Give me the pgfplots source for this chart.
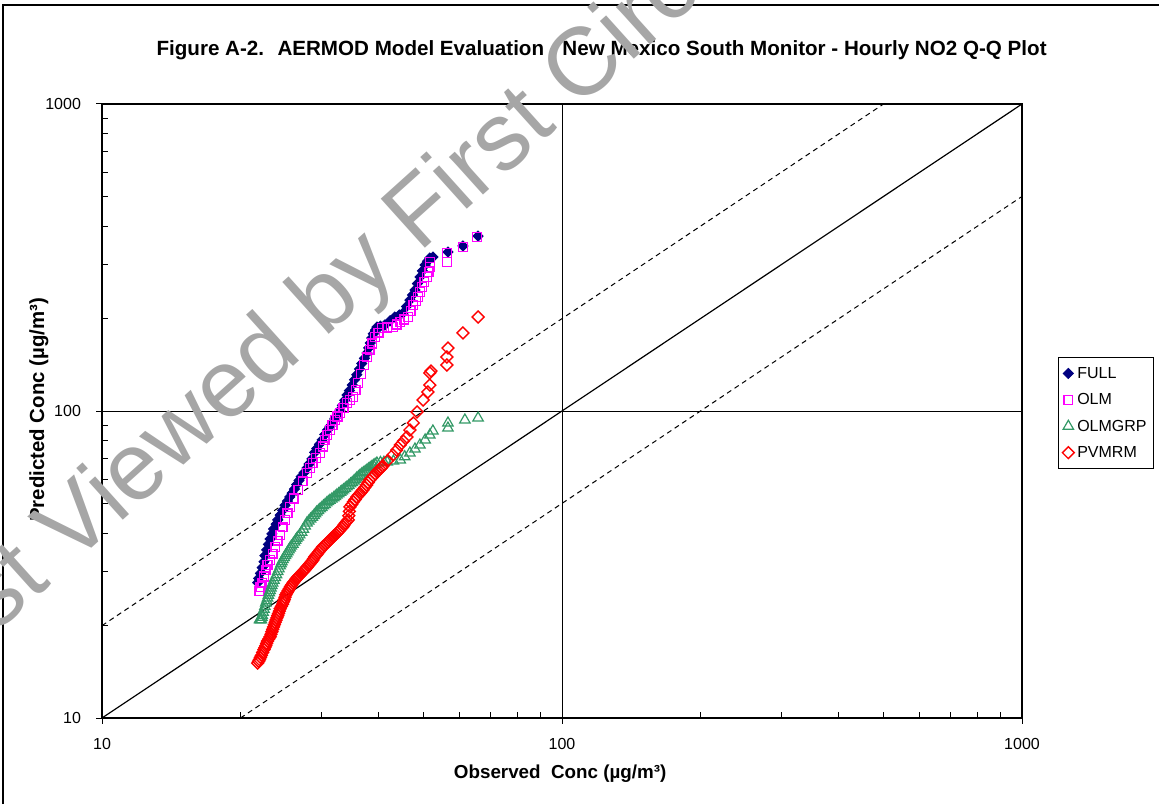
\documentclass[border=0pt]{standalone}
\usepackage{fontspec}
\setmainfont{Liberation Sans}
\usepackage{pgfplots}
\pgfplotsset{compat=1.18}

\definecolor{fullc}{RGB}{0,0,128}
\definecolor{olmc}{RGB}{255,0,255}
\definecolor{grpc}{RGB}{51,153,102}
\definecolor{pvc}{RGB}{255,0,0}

\begin{document}
\begin{tikzpicture}
\useasboundingbox (0,0) rectangle (579.5pt,402pt);
\begin{scope}
\clip (0,0) rectangle (579.5pt,402pt);
% frame of the figure
\draw[line width=1pt] (1.5pt,0) -- (1.5pt,399.5pt) -- (579.5pt,399.5pt);

\begin{axis}[
    at={(51pt,43pt)}, anchor=south west,
    scale only axis, width=460pt, height=307pt,
    xmode=log, ymode=log,
    xmin=10, xmax=1000, ymin=10, ymax=1000,
    xtick={10,100,1000}, xticklabels={10,100,1000},
    ytick={10,100,1000}, yticklabels={10,100,1000},
    xtick pos=left, ytick pos=left,
    tick align=inside,
    major tick length=-3pt, minor tick length=3pt,
    every tick/.style={black, line width=0.5pt},
    axis line style={line width=1pt},
    grid=major, major grid style={black, line width=0.5pt},
    ticklabel style={font=\fontsize{8}{9}\selectfont},
    xticklabel style={yshift=-6.5pt},
    yticklabel style={xshift=-7pt},
    title={Figure A-2.~ AERMOD Model Evaluation - New Mexico South Monitor - Hourly NO2 Q-Q Plot},
    title style={at={(axis description cs:0.543,1.068)}, anchor=center, yshift=0pt, font=\bfseries\fontsize{10.3}{12}\selectfont},
    xlabel={Observed~ Conc (µg/m³)},
    xlabel style={at={(axis description cs:0.498,-0.091)}, anchor=center, font=\bfseries\fontsize{9.4}{11}\selectfont},
    ylabel={Predicted Conc (µg/m³)},
    ylabel style={at={(axis description cs:-0.0685,0.502)}, anchor=center, font=\bfseries\fontsize{10.2}{12}\selectfont},
    legend style={at={(axis description cs:1.039,0.588)}, anchor=north west,
        draw=black, line width=0.5pt, font=\fontsize{8}{9}\selectfont,
        inner xsep=2pt, inner ysep=3pt, row sep=3.2pt,
        nodes={inner sep=1.5pt, text height=6pt, text depth=1pt}},
    legend cell align=left,
    legend image code/.code={\draw[mark repeat=2,mark phase=2,#1] plot coordinates {(0cm,0cm) (0.12cm,0cm) (0.24cm,0cm)};},
]

% FULL
\addplot[only marks, color=fullc, mark=square*, mark size=1.8pt,
    mark options={rotate=45, fill=fullc, draw=fullc, line width=0.4pt}] coordinates {
(21.8,27.6) (21.9,28.5) (22.1,29.6) (22.3,30.9) (22.5,32.3) (22.6,33.8)
(22.8,35.3) (23.0,36.8) (23.2,38.3) (23.4,39.8) (23.6,41.3) (23.9,42.8)
(24.1,44.2) (24.4,45.8) (24.7,47.5) (25.0,49.3) (25.3,50.9) (25.6,52.5)
(25.9,54.0) (26.2,55.7) (26.5,57.6) (26.8,59.4) (27.1,61.1) (27.5,63.0)
(27.9,65.2) (28.2,67.2) (28.6,69.8) (29.0,73.3) (29.3,75.5) (29.7,77.9)
(30.1,80.6) (30.5,83.8) (30.9,86.7) (31.3,89.2) (31.7,91.9) (32.1,94.6)
(32.5,97.4) (32.9,100.6) (33.3,104.3) (33.7,108.4) (34.1,112.7) (34.5,116.6)
(35.0,121.5) (35.4,126.5) (35.8,131.3) (36.3,137.0) (36.7,142.9) (37.2,148.5)
(37.7,154.5) (38.0,160.5) (38.3,166.6) (38.6,172.9) (38.9,178.5) (39.3,183.5)
(39.6,187.7) (40.3,189.0) (41.2,190.6) (42.3,196.8) (43.3,202.4) (44.3,205.5)
(45.1,208.6) (45.9,219.0) (46.7,229.9) (47.3,238.7) (47.9,247.9) (48.5,260.0)
(49.1,273.2) (49.7,286.0) (50.4,299.0) (51.0,307.5) (51.6,315.0) (52.4,317.4)
(56.5,329.6) (60.9,344.8) (65.7,371.5)
};
\addlegendentry{FULL}

% OLM
\addplot[only marks, color=olmc, mark=square, mark size=2.2pt,
    mark options={fill=white, draw=olmc, line width=0.7pt}] coordinates {
(22.0,25.9) (22.1,26.7) (22.3,27.5) (22.5,28.9) (22.7,30.3) (22.9,31.5)
(23.2,32.7) (23.5,34.3) (23.8,36.1) (24.1,37.8) (24.4,39.5) (24.7,41.8)
(25.0,44.2) (25.3,46.4) (25.6,48.7) (26.1,51.9) (26.7,55.3) (27.3,59.0)
(27.9,62.8) (28.3,65.2) (28.7,67.7) (29.2,70.3) (29.8,73.0) (30.2,76.6)
(30.5,80.4) (30.9,83.5) (31.3,86.7) (31.7,90.0) (32.1,93.5) (32.5,96.0)
(32.9,98.5) (33.5,102.3) (34.1,106.2) (34.6,108.6) (35.1,111.1) (35.6,117.0)
(36.0,123.4) (36.6,132.0) (37.1,141.2) (37.7,149.5) (38.2,158.0) (38.7,166.0)
(39.2,174.2) (39.9,180.0) (40.6,186.3) (41.7,187.0) (42.9,187.7) (43.7,191.3)
(44.5,194.9) (45.4,198.6) (46.3,202.4) (46.9,211.7) (47.5,221.4) (48.1,228.1)
(48.6,235.1) (49.1,244.0) (49.6,253.4) (50.2,263.1) (50.9,273.2) (51.3,283.7)
(51.6,294.5) (51.6,305.7) (56.2,305.7) (56.2,327.1) (60.9,342.2) (65.4,368.7)
};
\addlegendentry{OLM}

% OLMGRP
\addplot[only marks, color=grpc, mark=triangle, mark size=3pt,
    mark options={draw=grpc, line width=0.6pt}] coordinates {
(22.0,20.9) (22.1,20.9) (22.2,20.9) (22.25,21.3) (22.3,21.6) (22.4,22.1)
(22.5,22.6) (22.6,23.1) (22.7,23.7) (22.8,24.1) (22.9,24.6) (23.0,25.1)
(23.1,25.6) (23.2,26.0) (23.3,26.5) (23.4,27.0) (23.5,27.5) (23.65,28.1)
(23.8,28.7) (23.95,29.3) (24.1,30.0) (24.25,30.6) (24.4,31.3) (24.5,31.8)
(24.6,32.3) (24.75,32.8) (24.9,33.3) (25.05,33.8) (25.2,34.3) (25.35,34.8)
(25.5,35.3) (25.65,35.8) (25.8,36.3) (26.0,36.8) (26.2,37.4) (26.35,37.9)
(26.5,38.4) (26.7,38.9) (26.9,39.5) (27.15,40.3) (27.4,41.2) (27.65,42.2)
(27.9,43.2) (28.15,43.8) (28.4,44.5) (28.65,45.1) (28.9,45.7) (29.1,46.3)
(29.3,46.9) (29.55,47.4) (29.8,48.0) (30.05,48.5) (30.3,49.1) (30.55,49.6)
(30.8,50.2) (31.05,50.7) (31.3,51.2) (31.6,51.7) (31.9,52.2) (32.15,52.7)
(32.4,53.3) (32.7,53.8) (33.0,54.4) (33.25,54.9) (33.5,55.4) (33.8,56.0)
(34.1,56.6) (34.4,57.2) (34.7,57.9) (35.0,58.5) (35.3,59.2) (35.55,59.8)
(35.8,60.5) (36.1,61.1) (36.4,61.8) (36.7,62.4) (37.0,63.0) (37.35,63.6)
(37.7,64.3) (38.0,64.8) (38.3,65.4) (38.6,65.9) (38.9,66.5) (39.25,67.1)
(39.6,67.7) (40.3,68.0) (41.0,68.1) (41.7,68.2) (43.0,68.7) (44.5,69.3)
(45.5,71.0) (46.7,73.0) (47.9,75.2) (49.1,77.5) (50.4,80.5) (51.6,83.5)
(52.4,86.1) (56.5,88.0) (56.5,91.4) (61.5,93.5) (65.7,94.9)
};
\addlegendentry{OLMGRP}

% PVMRM
\addplot[only marks, color=pvc, mark=square, mark size=2.1pt,
    mark options={rotate=45, draw=pvc, line width=0.7pt}] coordinates {
(21.8,15.1) (21.9,15.3) (22.0,15.5) (22.1,15.75) (22.2,16.0) (22.35,16.35)
(22.5,16.7) (22.6,16.95) (22.7,17.2) (22.8,17.5) (22.9,17.8) (23.05,18.1)
(23.2,18.4) (23.3,18.75) (23.4,19.1) (23.5,19.45) (23.6,19.8) (23.7,20.15)
(23.8,20.5) (23.9,20.85) (24.0,21.2) (24.1,21.55) (24.2,21.9) (24.3,22.3)
(24.4,22.7) (24.55,23.1) (24.7,23.5) (24.8,23.9) (24.9,24.3) (25.0,24.75)
(25.1,25.2) (25.25,25.6) (25.4,26.0) (25.55,26.4) (25.7,26.8) (25.85,27.15)
(26.0,27.5) (26.15,27.8) (26.3,28.1) (26.45,28.4) (26.6,28.7) (26.75,28.95)
(26.9,29.2) (27.1,29.55) (27.3,29.9) (27.45,30.15) (27.6,30.4) (27.75,30.7)
(27.9,31.0) (28.1,31.4) (28.3,31.8) (28.5,32.2) (28.7,32.6) (28.85,33.05)
(29.0,33.5) (29.2,33.9) (29.4,34.3) (29.6,34.75) (29.8,35.2) (30.0,35.65)
(30.2,36.1) (30.45,36.5) (30.7,36.9) (30.95,37.35) (31.2,37.8) (31.4,38.2)
(31.6,38.6) (31.8,38.95) (32.0,39.3) (32.25,39.7) (32.5,40.1) (32.7,40.55)
(32.9,41.0) (33.15,41.5) (33.4,42.0) (33.6,42.55) (33.8,43.1) (34.05,43.65)
(34.3,44.2) (34.4,45.6) (34.5,47.1) (34.6,48.7) (34.9,49.6) (35.2,50.6)
(35.5,51.5) (35.8,52.5) (36.1,53.2) (36.4,53.9) (36.65,54.6) (36.9,55.3)
(37.25,56.3) (37.6,57.4) (37.9,58.5) (38.2,59.6) (38.55,60.5) (38.9,61.4)
(39.25,62.3) (39.6,63.3) (39.9,64.0) (40.2,64.7) (40.5,65.4) (40.8,66.2)
(41.8,69.0) (42.9,71.9) (43.7,74.6) (44.5,77.5) (45.2,79.8) (46.0,82.3)
(46.7,86.7) (47.5,91.4) (48.4,99.3) (49.9,108.6) (51.1,115.3) (51.6,121.5)
(51.6,133.0) (51.9,135.0) (56.2,141.2) (56.2,149.9) (56.5,160.4) (60.9,179.6)
(65.7,202.4)
};
\addlegendentry{PVMRM}

% reference lines 1:1, 2:1 and 1:2
\addplot[black, line width=0.6pt, forget plot] coordinates {(10,10) (1000,1000)};
\addplot[black, line width=0.5pt, dash pattern=on 2.5pt off 2pt, forget plot] coordinates {(10,20) (500,1000)};
\addplot[black, line width=0.5pt, dash pattern=on 2.5pt off 2pt, forget plot] coordinates {(20,10) (1000,500)};
\end{axis}

% watermark
\node[rotate=42, text=black!35, font=\fontsize{48}{48}\selectfont] at (165pt,252pt) {First Viewed by First Circuit};
\end{scope}
\end{tikzpicture}
\end{document}
